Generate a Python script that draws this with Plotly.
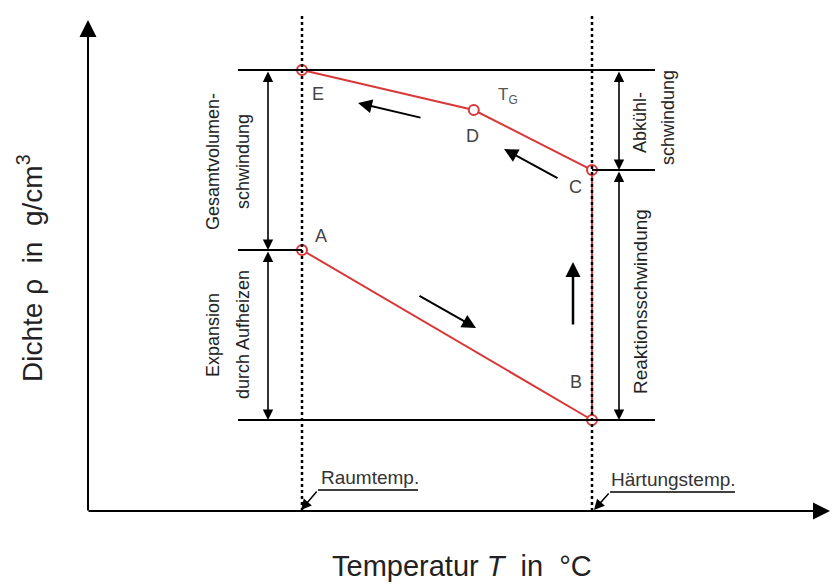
import plotly.graph_objects as go

# ---- data (schematic values) ----
punkte = ["A", "B", "C", "D", "E"]
temperatur = [20, 150, 150, 97, 20]          # °C
dichte = [1.27, 1.10, 1.35, 1.41, 1.45]      # g/cm³
T_raum = 20
T_haertung = 150
pfad_abkuehlen = ["B", "C", "D", "E"]
pfad_aufheizen = ["A", "B"]

W, H = 832, 586
# pixel <-> data mapping (layout helpers)
PX_R, PX_H = 302, 592
kx = (T_haertung - T_raum) / (PX_H - PX_R)
PY_B = 420
ky = 0.001
rho_B = dichte[punkte.index("B")]


def X(px):
    return T_raum + (px - PX_R) * kx


def Y(py):
    return rho_B + (PY_B - py) * ky


d = dict(zip(punkte, zip(temperatur, dichte)))
RED = "#d9383a"
FONT = "Liberation Sans, Arial, sans-serif"
TXT = "#222222"

fig = go.Figure()
fig.add_trace(go.Scatter(x=[d[p][0] for p in pfad_abkuehlen], y=[d[p][1] for p in pfad_abkuehlen],
                         mode="lines", line=dict(color=RED, width=2), hoverinfo="skip"))
fig.add_trace(go.Scatter(x=[d[p][0] for p in pfad_aufheizen], y=[d[p][1] for p in pfad_aufheizen],
                         mode="lines", line=dict(color=RED, width=2), hoverinfo="skip"))
fig.add_trace(go.Scatter(x=temperatur, y=dichte, mode="markers",
                         marker=dict(symbol="circle", size=10, color="white",
                                     line=dict(color=RED, width=2)), hoverinfo="skip"))

shapes = []
# horizontal level lines
for y_, x0, x1 in [(d["E"][1], 238, 655), (d["A"][1], 238, PX_R), (d["C"][1], PX_H, 655), (d["B"][1], 238, 655)]:
    shapes.append(dict(type="line", xref="x", yref="y", x0=X(x0), x1=X(x1), y0=y_, y1=y_,
                       line=dict(color="black", width=2)))
# dotted temperature lines
for t in [T_raum, T_haertung]:
    shapes.append(dict(type="line", xref="x", yref="y", x0=t, x1=t, y0=Y(16), y1=Y(511),
                       line=dict(color="black", width=2.5, dash="dot")))
# underlines of labels
shapes.append(dict(type="line", xref="x", yref="y", x0=X(318), x1=X(418), y0=Y(490), y1=Y(490),
                   line=dict(color="black", width=1.5)))
shapes.append(dict(type="line", xref="x", yref="y", x0=X(610), x1=X(735), y0=Y(492), y1=Y(492),
                   line=dict(color="black", width=1.5)))

ann = []


def arrow(x0, y0, x1, y1, w=2, size=1.5, both=False, head=2):
    a = dict(x=x1, y=y1, ax=x0, ay=y0, xref="x", yref="y", axref="x", ayref="y",
             text="", showarrow=True, arrowhead=head, arrowwidth=w, arrowsize=size,
             arrowcolor="black", standoff=0, startstandoff=0)
    if both:
        a.update(arrowside="end+start", startarrowhead=head, startarrowsize=size)
    ann.append(a)


# axes
arrow(X(88), Y(512), X(88), Y(20), w=2, size=1.7)
arrow(X(87), Y(511), X(830), Y(511), w=2, size=1.7)
# dimension arrows
arrow(X(268), d["E"][1], X(268), d["A"][1], w=1.6, size=1.3, both=True)
arrow(X(268), d["A"][1], X(268), d["B"][1], w=1.6, size=1.3, both=True)
arrow(X(619), d["E"][1], X(619), d["C"][1], w=1.6, size=1.3, both=True)
arrow(X(619), d["C"][1], X(619), d["B"][1], w=1.6, size=1.3, both=True)
# flow arrows
arrow(X(422), Y(118), X(358), Y(103), w=2, size=1.4)
arrow(X(559), Y(179), X(504), Y(149), w=2, size=1.4)
arrow(X(418), Y(295), X(476), Y(328), w=2, size=1.4)
arrow(X(573), Y(326), X(573), Y(262), w=2.5, size=1.2)
# leader arrows
arrow(X(318), Y(490), X(301), Y(510), w=1.5, size=1.4)
arrow(X(610), Y(492), X(594), Y(510), w=1.5, size=1.4)


def text(px, py, s, size=18, color=TXT, angle=0, xanchor="center"):
    ann.append(dict(x=X(px), y=Y(py), xref="x", yref="y", text=s, showarrow=False,
                    textangle=angle, xanchor=xanchor, yanchor="middle",
                    font=dict(family=FONT, size=size, color=color)))


# point labels
lab_pos = {"A": (321, 236), "B": (576, 382), "C": (575, 187), "D": (472, 136), "E": (318, 94)}
for p in punkte:
    text(*lab_pos[p], p, size=18, color="#444444")
text(496, 96, "T<sub>G</sub>", size=17, color="#555555", xanchor="left")

# dimension labels
text(213, 162, "Gesamtvolumen-", size=18, angle=-90)
text(243, 162, "schwindung", size=18, angle=-90)
text(213, 335, "Expansion", size=18, angle=-90)
text(243, 335, "durch Aufheizen", size=18, angle=-90)
text(640, 123, "Abkühl-", size=18, angle=-90)
text(668, 118, "schwindung", size=18, angle=-90)
text(640, 302, "Reaktionsschwindung", size=19, angle=-90)

text(370, 477, "Raumtemp.", size=19, color="#333333")
text(673, 479, "Härtungstemp.", size=19, color="#333333")

# axis titles
text(30, 268, "Dichte ρ\u00a0\u00a0in\u00a0\u00a0g/cm<sup>3</sup>", size=28, angle=-90)
text(462, 566, "Temperatur <i>T</i>\u00a0\u00a0in\u00a0\u00a0°C", size=29)

fig.update_layout(
    width=W, height=H, margin=dict(l=0, r=0, t=0, b=0),
    paper_bgcolor="white", plot_bgcolor="white", showlegend=False,
    xaxis=dict(range=[X(0), X(W)], visible=False, fixedrange=True),
    yaxis=dict(range=[Y(H), Y(0)], visible=False, fixedrange=True),
    shapes=shapes, annotations=ann,
)
fig.write_html("out.html", config={"displayModeBar": False},
               post_script="document.body.style.margin='0';document.body.style.padding='0';")
